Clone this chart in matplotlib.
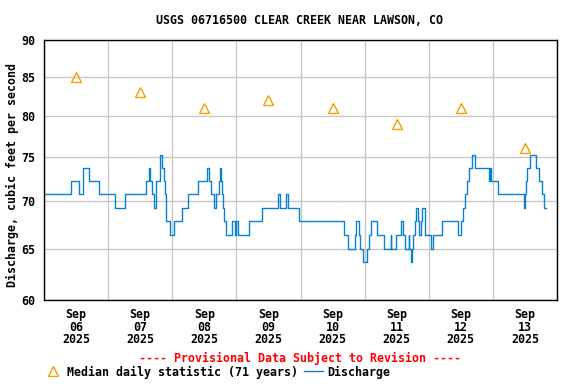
import numpy as np
import pandas as pd
import matplotlib
matplotlib.use("Agg")
import matplotlib.pyplot as plt
import matplotlib.dates as mdates
from matplotlib.lines import Line2D

# discharge, step changes: hours after 2025-09-06 00:00 and new value (cfs)
change_hours = [
    0, 10.25, 13, 14.5, 17, 20.75, 26.5, 30.25, 38, 39.25, 39.75, 40.25, 41, 42,
    43.25, 43.5, 44.25, 44.75, 45.25, 45.5, 45.75, 47.25, 48.75, 51.5, 54, 57.75,
    61, 61.75, 62.5, 63.75, 64.5, 65.5, 65.75, 66.25, 66.5, 67, 67.25, 68, 70.25,
    71.5, 72, 72.75, 76.75, 81.75, 87.5, 88.25, 90.5, 91.5, 95.5, 112.25, 113.75,
    116.5, 116.75, 118, 118.25, 119.25, 121, 121.75, 122.5, 124.5, 127.25, 129.75,
    130, 131.75, 133.5, 134.5, 135.25, 136.5, 136.75, 137.25, 137.75, 138, 138.75,
    139.25, 140, 140.5, 141, 141.5, 142.5, 142.75, 145, 145.5, 149, 155, 156,
    156.75, 157.5, 158.25, 159.25, 160.25, 161.25, 166.5, 166.75, 167.25, 169.75,
    179.5, 180, 180.5, 180.75, 182, 184, 185.25, 186.5, 187.25, 188,
]
change_values = [
    70.8, 72.2, 70.8, 73.7, 72.2, 70.8, 69.3, 70.8, 72.2, 73.7, 72.2, 70.8, 69.3, 72.2,
    73.7, 75.2, 73.7, 72.2, 70.8, 69.3, 67.9, 66.4, 67.9, 69.3, 70.8, 72.2,
    73.7, 72.2, 70.8, 69.3, 70.8, 72.2, 73.7, 72.2, 70.8, 69.3, 67.9, 66.4, 67.9,
    66.4, 67.9, 66.4, 67.9, 69.3, 70.8, 69.3, 70.8, 69.3, 67.9, 66.4, 65.0,
    66.4, 67.9, 66.4, 65.0, 63.7, 65.0, 66.4, 67.9, 66.4, 65.0, 66.4,
    65.0, 66.4, 67.9, 66.4, 65.0, 66.4, 65.0, 63.7, 65.0, 66.4, 67.9,
    69.3, 67.9, 66.4, 67.9, 69.3, 67.9, 66.4, 65.0, 66.4, 67.9, 66.4, 67.9,
    69.3, 70.8, 72.2, 73.7, 75.2, 73.7, 72.2, 73.7, 72.2, 70.8,
    69.3, 70.8, 72.2, 73.7, 75.2, 73.7, 72.2, 70.8, 69.3, 69.3,
]

# median daily statistic (71 years), one per day at noon
median_days = ["2025-09-06", "2025-09-07", "2025-09-08", "2025-09-09",
               "2025-09-10", "2025-09-11", "2025-09-12", "2025-09-13"]
median_values = [85, 83, 81, 82, 81, 79, 81, 76]

y_ticks = [60, 65, 70, 75, 80, 85, 90]

start = pd.Timestamp("2025-09-06 00:00")
times = start + pd.to_timedelta(change_hours, unit="h")
median_times = pd.to_datetime(median_days) + pd.Timedelta(hours=12)

font = {"family": "DejaVu Sans Mono", "weight": "bold", "size": 8.4}
fp = matplotlib.font_manager.FontProperties(**font)
blue = "#0a80d0"
orange = "#f5a000"

fig = plt.figure(figsize=(5.76, 3.84), dpi=100)
ax = fig.add_axes([44 / 576, 1 - 300 / 384, 513 / 576, 260 / 384])

ax.step(times, change_values, where="post", color=blue, lw=1.0)
ax.plot(median_times, median_values, ls="none", marker="^", ms=7.5,
        mfc="none", mec=orange, mew=1.0)

ax.set_yscale("log")
ax.set_ylim(60, 90)
ax.set_yticks(y_ticks)
ax.set_yticklabels([str(v) for v in y_ticks])
ax.yaxis.set_minor_locator(plt.NullLocator())
ax.set_xlim(start, start + pd.Timedelta(days=8))

ax.xaxis.set_major_locator(mdates.DayLocator())
ax.xaxis.set_major_formatter(plt.NullFormatter())
ax.xaxis.set_minor_locator(mdates.HourLocator(byhour=[12]))
ax.xaxis.set_minor_formatter(mdates.DateFormatter("%b\n%d\n%Y"))
ax.tick_params(axis="both", which="both", length=0)
ax.tick_params(axis="y", pad=6)
ax.tick_params(axis="x", which="minor", pad=6)
for lab in ax.get_xticklabels(minor=True) + ax.get_yticklabels():
    lab.set_fontproperties(fp)
for lab in ax.get_xticklabels(minor=True):
    lab.set_linespacing(0.95)

ax.grid(True, which="major", color="#c8c8c8", lw=1.0)
ax.set_axisbelow(True)
for s in ax.spines.values():
    s.set_color("black")
    s.set_linewidth(1.0)

ax.set_ylabel("Discharge, cubic feet per second", fontdict=font)
ax.yaxis.set_label_coords(-25 / 513, 0.48)

fig.text(300 / 576, 1 - 20 / 384, "USGS 06716500 CLEAR CREEK NEAR LAWSON, CO",
         ha="center", va="center", **font)
fig.text(300 / 576, 1 - 358 / 384, "---- Provisional Data Subject to Revision ----",
         ha="center", va="center", color="red", **font)

handles = [Line2D([], [], ls="none", marker="^", ms=7.5, mfc="none", mec=orange, mew=1.0),
           Line2D([], [], color=blue, lw=1.0)]
fig.legend(handles, ["Median daily statistic (71 years)", "Discharge"],
           loc="center left", bbox_to_anchor=(44 / 576, 1 - 372 / 384), ncol=2,
           frameon=False, prop=fp,
           handlelength=1.6, handletextpad=0.4, columnspacing=0.5, borderaxespad=0,
           borderpad=0)

fig.savefig("out.png", dpi=100)
